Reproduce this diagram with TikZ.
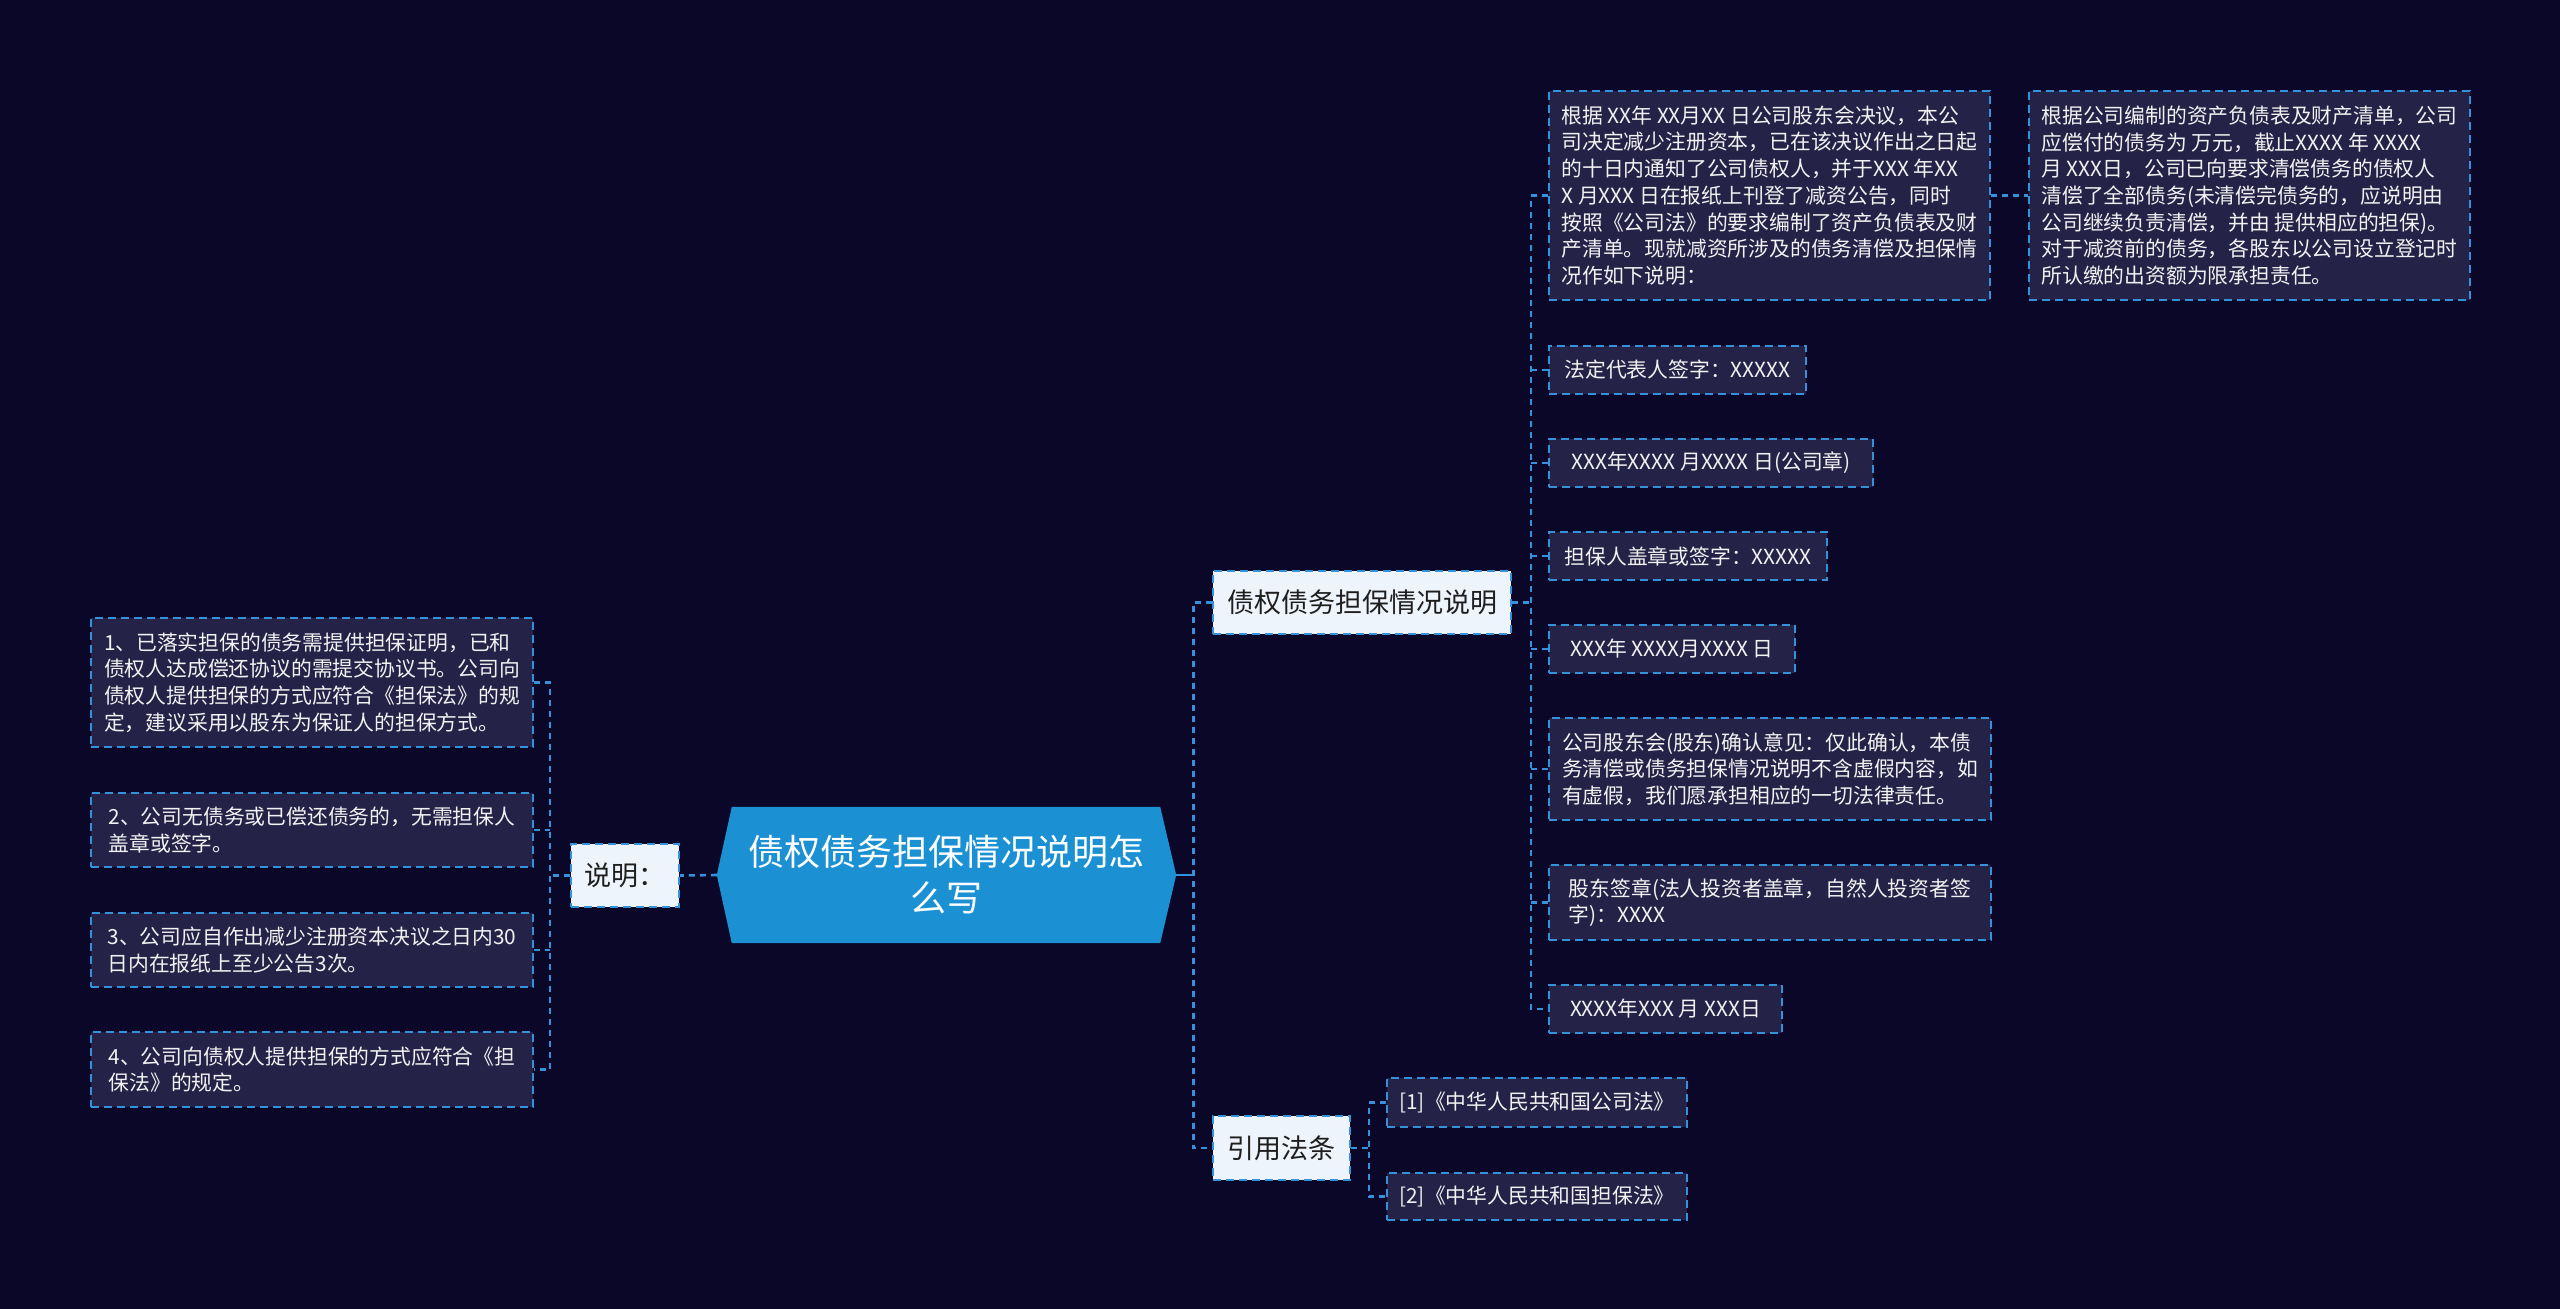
\documentclass[tikz,border=0pt]{standalone}
\usepackage{fontspec}
\setmainfont{Noto Sans CJK SC}
\usetikzlibrary{backgrounds}
\definecolor{bg}{HTML}{0B0728}
\definecolor{leaffill}{HTML}{252248}
\definecolor{lineblue}{HTML}{3592DA}
\definecolor{cfill}{HTML}{1B91D3}
\definecolor{bfill}{HTML}{EEF4FC}
\definecolor{btext}{HTML}{1E1E1E}
\definecolor{ltext}{HTML}{F2F2F2}
\begin{document}
\begin{tikzpicture}[x=1pt,y=-1pt,
  leaf/.style={draw=lineblue, line width=2pt, dash pattern=on 8pt off 5pt, fill=leaffill, text=ltext, align=left, inner xsep=11pt, inner ysep=0pt, font=\fontsize{20.8pt}{26.7pt}\selectfont, anchor=north west},
  branch/.style={draw=lineblue, line width=2pt, dash pattern=on 8pt off 5pt, fill=bfill, text=btext, inner sep=0pt, font=\fontsize{27pt}{32pt}\selectfont, anchor=north west},
  centre/.style={inner sep=0pt, text=white, align=center, font=\fontsize{36pt}{46pt}\selectfont, minimum width=428pt, minimum height=136pt},
  conn/.style={draw=lineblue, line width=2.6pt, dash pattern=on 6pt off 5pt},
  solidconn/.style={draw=lineblue, line width=2.6pt},
]
\useasboundingbox (0,0) rectangle (2560,1309);
\begin{scope}[on background layer]
  \fill[bg] (0,0) rectangle (2560,1309);
\end{scope}

% central node
\node[centre] (c) at (946,875) {债权债务担保情况说明怎\\么写};
\begin{scope}[on background layer]
  \fill[cfill] (c.north west) -- (c.north east) -- ([xshift=16pt]c.east) -- (c.south east) -- (c.south west) -- ([xshift=-15pt]c.west) -- cycle;
\end{scope}

% left branch
\node[branch, minimum width=108pt, minimum height=63pt] (s) at (570,843) {说明：};
\node[leaf, minimum width=442pt, minimum height=129pt] (l1) at (90,617) {1、已落实担保的债务需提供担保证明，已和\\债权人达成偿还协议的需提交协议书。公司向\\债权人提供担保的方式应符合《担保法》的规\\定，建议采用以股东为保证人的担保方式。};
\node[leaf, minimum width=442pt, minimum height=74pt] (l2) at (90,792) {2、公司无债务或已偿还债务的，无需担保人\\盖章或签字。};
\node[leaf, minimum width=442pt, minimum height=74pt] (l3) at (90,912) {3、公司应自作出减少注册资本决议之日内30\\日内在报纸上至少公告3次。};
\node[leaf, minimum width=442pt, minimum height=75pt] (l4) at (90,1031) {4、公司向债权人提供担保的方式应符合《担\\保法》的规定。};

% right branches
\node[branch, minimum width=298pt, minimum height=63pt] (b1) at (1212,570) {债权债务担保情况说明};
\node[branch, minimum width=137pt, minimum height=64pt] (b2) at (1212,1115) {引用法条};

\node[leaf, minimum width=441pt, minimum height=209pt] (r1) at (1548,90) {根据 XX年 XX月XX 日公司股东会决议，本公\\司决定减少注册资本，已在该决议作出之日起\\的十日内通知了公司债权人，并于XXX 年XX\\X 月XXX 日在报纸上刊登了减资公告，同时\\按照《公司法》的要求编制了资产负债表及财\\产清单。现就减资所涉及的债务清偿及担保情\\况作如下说明：};
\node[leaf, minimum width=441pt, minimum height=209pt] (r1a) at (2028,90) {根据公司编制的资产负债表及财产清单，公司\\应偿付的债务为 万元，截止XXXX 年 XXXX\\月 XXX日，公司已向要求清偿债务的债权人\\清偿了全部债务(未清偿完债务的，应说明由\\公司继续负责清偿，并由 提供相应的担保)。\\对于减资前的债务，各股东以公司设立登记时\\所认缴的出资额为限承担责任。};
\node[leaf, minimum width=257pt, minimum height=48pt] (r2) at (1548,345) {法定代表人签字：XXXXX};
\node[leaf, minimum width=324pt, minimum height=48pt] (r3) at (1548,438) {XXX年XXXX 月XXXX 日(公司章)};
\node[leaf, minimum width=278pt, minimum height=48pt] (r4) at (1548,531) {担保人盖章或签字：XXXXX};
\node[leaf, minimum width=246pt, minimum height=48pt] (r5) at (1548,624) {XXX年 XXXX月XXXX 日};
\node[leaf, minimum width=442pt, minimum height=102pt] (r6) at (1548,717) {公司股东会(股东)确认意见：仅此确认，本债\\务清偿或债务担保情况说明不含虚假内容，如\\有虚假，我们愿承担相应的一切法律责任。};
\node[leaf, minimum width=442pt, minimum height=75pt] (r7) at (1548,864) {股东签章(法人投资者盖章，自然人投资者签\\字)：XXXX};
\node[leaf, minimum width=233pt, minimum height=48pt] (r8) at (1548,984) {XXXX年XXX 月 XXX日};

\node[leaf, minimum width=300pt, minimum height=49pt] (k1) at (1386,1077) {[1]《中华人民共和国公司法》};
\node[leaf, minimum width=300pt, minimum height=47pt] (k2) at (1386,1172) {[2]《中华人民共和国担保法》};

% connectors: centre
\draw[solidconn] ([xshift=16pt]c.east) -- ++(17,0) coordinate (jR);
\draw[conn] (b1.west) -- (b1.west -| jR) -- (b2.west -| jR) -- (b2.west);
\draw[conn] ([xshift=-15pt]c.west) -- (s.east);

% left
\draw[conn] (s.west) -- ++(-20,0) coordinate (jL);
\draw[conn] (l1.east) -- (l1.east -| jL) -- (l4.east -| jL) -- (l4.east);
\draw[conn] (l2.east) -- (l2.east -| jL);
\draw[conn] (l3.east) -- (l3.east -| jL);

% branch 1 children
\draw[conn] (b1.east) -- ++(19,0) coordinate (jB);
\draw[conn] (r1.west) -- (r1.west -| jB) -- (r8.west -| jB) -- (r8.west);
\foreach \n in {r2,r3,r4,r5,r6,r7} {
  \draw[conn] (\n.west) -- (\n.west -| jB);
}
\draw[conn] (r1.east) -- (r1a.west);

% branch 2 children
\draw[conn] (b2.east) -- ++(18,0) coordinate (jK);
\draw[conn] (k1.west) -- (k1.west -| jK) -- (k2.west -| jK) -- (k2.west);
\end{tikzpicture}
\end{document}
